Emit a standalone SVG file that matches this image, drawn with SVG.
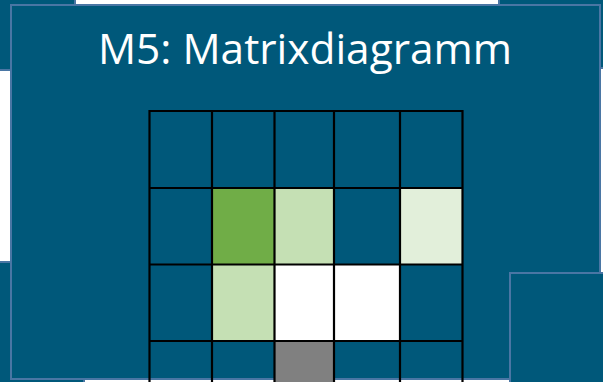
<svg xmlns="http://www.w3.org/2000/svg" width="603" height="382" viewBox="0 0 603 382">
  <style>
    .panel { fill: #00587A; stroke: #4A76A4; stroke-width: 2; }
    .grid { fill: none; stroke: #000000; stroke-width: 2.2; }
    .title { font-family: "Open Sans", "Noto Sans", sans-serif; font-size: 42.4px; fill: #FFFFFF; }
  </style>
  <rect x="0" y="0" width="603" height="382" fill="#FFFFFF"/>
  <g id="panel-top-left"><rect class="panel" x="-3" y="-3" width="78" height="73"/></g>
  <g id="panel-top-right"><rect class="panel" x="499" y="-3" width="110" height="71"/></g>
  <g id="panel-bottom-left"><rect class="panel" x="-3" y="262" width="87" height="130"/></g>
  <g id="panel-main">
    <rect class="panel" x="11" y="5" width="589" height="374"/>
    <text class="title" x="305" y="64" text-anchor="middle">M5: Matrixdiagramm</text>
  </g>
  <g id="panel-bottom-right"><rect class="panel" x="510" y="273" width="100" height="120"/></g>
  <g id="matrix">
    <rect x="212" y="188" width="62.5" height="76.5" fill="#70AD47"/>
    <rect x="274.5" y="188" width="59.5" height="76.5" fill="#C5E0B4"/>
    <rect x="400" y="188" width="62.5" height="76.5" fill="#E2EFDA"/>
    <rect x="212" y="264.5" width="62.5" height="76.5" fill="#C5E0B4"/>
    <rect x="274.5" y="264.5" width="59.5" height="76.5" fill="#FFFFFF"/>
    <rect x="334" y="264.5" width="66" height="76.5" fill="#FFFFFF"/>
    <rect x="274.5" y="341" width="59.5" height="77" fill="#808080"/>
    <path class="grid" d="M149.5 111V420M212 111V420M274.5 111V420M334 111V420M400 111V420M462.5 111V420M148.4 111H463.6M148.4 188H463.6M148.4 264.5H463.6M148.4 341H463.6"/>
  </g>
</svg>
